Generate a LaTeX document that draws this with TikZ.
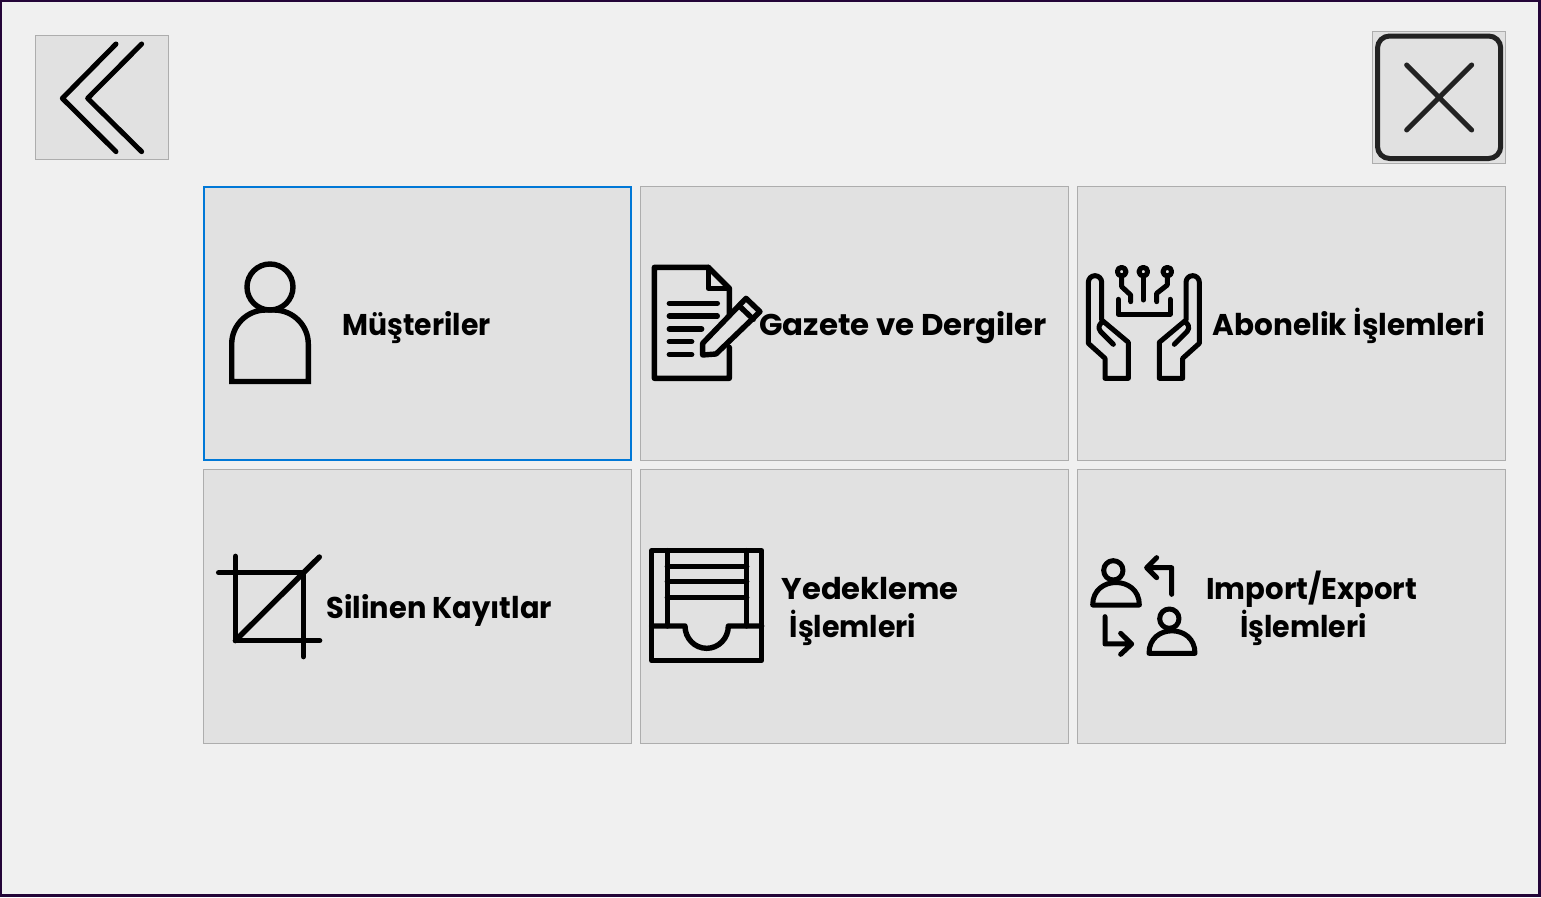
\documentclass[tikz,border=0pt]{standalone}
\usepackage{fontspec}
\setmainfont{Poppins}[Scale=1.0]
\definecolor{pagebg}{HTML}{F0F0F0}
\definecolor{btnfill}{HTML}{E1E1E1}
\definecolor{btnline}{HTML}{ADADAD}
\definecolor{focus}{HTML}{0078D7}
\definecolor{frameline}{HTML}{240538}
\definecolor{closeink}{HTML}{222222}
\newcommand{\fitx}[2]{\scalebox{#1}[1]{#2}}
\tikzset{
  btn/.style={draw=btnline,fill=btnfill,line width=1pt,rectangle,inner sep=0pt,outer sep=0pt,minimum width=#1},
  btn/.default=428pt,
  ink/.style={draw=black,line width=5.4pt,line join=round,line cap=round},
  thin ink/.style={draw=black,line width=5pt,line join=round,line cap=round},
  lbl/.style={anchor=base west,inner sep=0pt,font=\fontsize{30}{38}\selectfont\bfseries,text=black,align=left},
}
\begin{document}
\begin{tikzpicture}[x=1pt,y=-1pt]
\useasboundingbox (0,0) rectangle (1541,897);
\draw[fill=pagebg,draw=frameline,line width=3pt] (0.6,0.6) rectangle (1539.5,895.5);
% buttons
\node[btn=133pt,minimum height=124pt,anchor=north west] (back) at (35.5,35.5) {};
\node[btn=133pt,minimum height=132pt,anchor=north west] (close) at (1372.5,31.5) {};
\node[btn=427pt,minimum height=273pt,anchor=north west,draw=focus,line width=2pt] (b1) at (204,187) {};
\node[btn,minimum height=274pt,anchor=north west] (b2) at (640.5,186.5) {};
\node[btn,minimum height=274pt,anchor=north west] (b3) at (1077.5,186.5) {};
\node[btn,minimum height=274pt,anchor=north west] (b4) at (203.5,469.5) {};
\node[btn,minimum height=274pt,anchor=north west] (b5) at (640.5,469.5) {};
\node[btn,minimum height=274pt,anchor=north west] (b6) at (1077.5,469.5) {};
% back icon
\begin{scope}[shift={(20,20)},x=0.3333pt,y=-0.3333pt]
\draw[ink,line width=5pt] (288,72)--(127,235)--(288,395);
\draw[ink,line width=5pt] (365,72)--(203,235)--(365,395);
\end{scope}
% close icon
\draw[draw=closeink,line width=5pt,rounded corners=12pt] (1377.5,36) rectangle (1500.7,158.5);
\begin{scope}[shift={(1360,20)},x=0.3333pt,y=-0.3333pt]
\draw[ink,draw=closeink,line width=5pt] (140,135)--(335,330) (335,135)--(140,330);
\end{scope}
% person
\draw[ink,line cap=butt,line join=miter] (270,287) circle[radius=23];
\draw[ink,line cap=butt,line join=miter] (231.7,381.5)--(231.7,344) arc[start angle=180,end angle=270,x radius=34,y radius=34]--(274,310) arc[start angle=270,end angle=360,x radius=34.3,y radius=34]--(308.3,381.5)--cycle;
% document
\begin{scope}[shift={(640,250)},x=0.3333pt,y=-0.3333pt]
\draw[ink] (268,192)--(268,115)--(205,52)--(43,52)--(43,385)--(268,385)--(268,292);
\draw[ink] (205,52)--(205,115)--(268,115);
\draw[ink] (88,160)--(232,160) (88,198)--(232,198) (88,237)--(185,237) (88,275)--(155,275) (88,314)--(155,314);
\draw[ink] (188,280)--(318,145)--(360,185)--(228,312)--(188,315)--cycle;
\draw[ink] (297,167)--(340,208);
\end{scope}
% hands
\begin{scope}[shift={(1080,255)},x=0.3333pt,y=-0.3333pt]
\foreach \m/\o in {1/0,-1/383}{
 \begin{scope}[shift={(\o,0)},xscale=\m]
 \draw[thin ink] (75,370)--(75,310)--(25,265)--(25,82) arc[start angle=180,end angle=360,radius=20]--(65,195)--(145,262)--(145,370)--cycle;
 \draw[thin ink] (100,268)--(62,230) .. controls (52,218) and (58,205) .. (70,200);
 \end{scope}
}
\draw[thin ink] (115,133)--(115,178)--(270,178)--(270,133);
\draw[thin ink] (125,50) circle[radius=13] (190,50) circle[radius=13] (262,50) circle[radius=13];
\draw[thin ink] (190,63)--(190,135);
\draw[thin ink] (125,63)--(125,95)--(152,120)--(152,140);
\draw[thin ink] (262,63)--(262,90)--(230,115)--(230,140);
\end{scope}
% crop
\begin{scope}[shift={(210,545)},x=0.3333pt,y=-0.3333pt]
\draw[ink] (26,83)--(280,83)--(280,335);
\draw[ink] (76,34)--(76,287)--(329,287);
\draw[ink] (76,287)--(328,36);
\end{scope}
% tray
\begin{scope}[shift={(640,540)},x=0.3333pt,y=-0.3333pt]
\draw[ink] (35,32) rectangle (365,362);
\draw[ink] (82,32)--(82,258) (320,32)--(320,258);
\draw[ink] (82,80)--(320,80) (82,125)--(320,125) (82,172)--(320,172);
\draw[ink] (35,258)--(135,258) arc[start angle=180,end angle=360,x radius=65,y radius=-67]--(365,258);
\end{scope}
% import/export
\begin{scope}[shift={(1080,545)},x=0.3333pt,y=-0.3333pt]
\draw[thin ink] (100,76) circle[radius=29] (268,221) circle[radius=29];
\draw[thin ink] (38,180) .. controls (38,90) and (178,90) .. (178,180)--cycle;
\draw[thin ink] (207,325) .. controls (207,235) and (345,235) .. (345,325)--cycle;
\draw[thin ink] (275,148)--(275,68)--(200,68) (230,38)--(200,68)--(230,98);
\draw[thin ink] (75,215)--(75,297)--(155,297) (122,265)--(155,297)--(122,328);
\end{scope}
% labels
\node[lbl] (t1) at (342.5,335) {\fitx{0.942}{Müşteriler}};
\node[lbl] (t2) at (759,335) {\fitx{1.029}{Gazete ve Dergiler}};
\node[lbl] (t3) at (1212.5,335) {\fitx{0.985}{Abonelik İşlemleri}};
\node[lbl] (t4) at (326.5,618) {\fitx{0.961}{Silinen Kayıtlar}};
\node[lbl] (t5) at (781.5,637) {\fitx{1.02}{Yedekleme}\\\hspace*{8pt}\fitx{0.947}{İşlemleri}};
\node[lbl] (t6) at (1206,637) {\fitx{0.972}{Import/Export}\\\hspace*{34pt}\fitx{0.947}{İşlemleri}};
\end{tikzpicture}
\end{document}
